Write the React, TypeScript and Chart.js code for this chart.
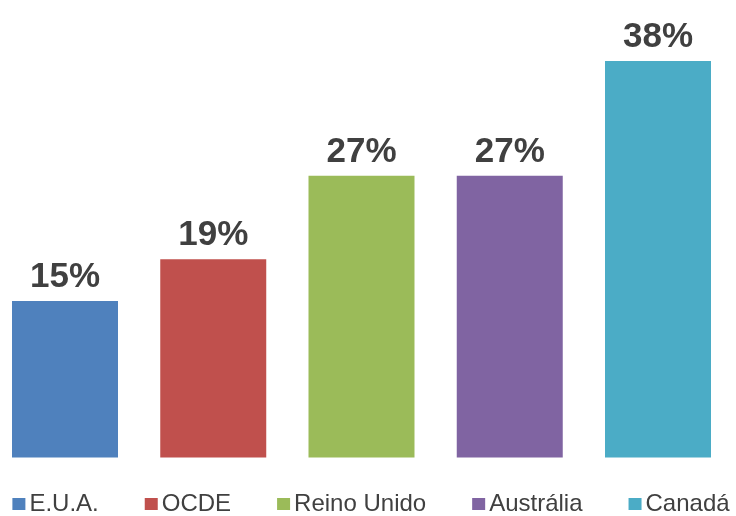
import React, { useEffect, useRef } from "react";
import { Chart, registerables } from "chart.js";

Chart.register(...registerables);

const categories = ["E.U.A.", "OCDE", "Reino Unido", "Austrália", "Canadá"];
const values = [15, 19, 27, 27, 38];
const barColors = ["#4F81BD", "#C0504D", "#9BBB59", "#8064A2", "#4BACC6"];
const yMax = 40;

const FONT = "'Liberation Sans', Arial, sans-serif";

const valueLabelPlugin = {
  id: "valueLabels",
  afterDatasetsDraw(chart: any) {
    const ctx = chart.ctx;
    const meta = chart.getDatasetMeta(0);
    const data = chart.data.datasets[0].data as number[];
    ctx.save();
    ctx.font = `bold 35px ${FONT}`;
    ctx.fillStyle = "#404040";
    ctx.textAlign = "center";
    ctx.textBaseline = "alphabetic";
    meta.data.forEach((bar: any, i: number) => {
      ctx.fillText(`${data[i]}%`, bar.x, bar.y - 14);
    });
    ctx.restore();
  },
};

const bottomLegendPlugin = {
  id: "bottomLegend",
  afterDraw(chart: any) {
    const ctx = chart.ctx;
    const labels = chart.data.labels as string[];
    const colors = chart.data.datasets[0].backgroundColor as string[];
    const box = 13;
    const textGap = 4;
    const itemGap = 46;
    ctx.save();
    ctx.font = `24px ${FONT}`;
    const widths = labels.map((l) => ctx.measureText(l).width);
    const total =
      widths.reduce((a, w) => a + box + textGap + w, 0) + itemGap * (labels.length - 1);
    let x = chart.width / 2 + 3 - total / 2;
    const boxTop = 498;
    const baseline = 511;
    labels.forEach((l, i) => {
      ctx.fillStyle = colors[i];
      ctx.fillRect(x, boxTop, box, 12);
      ctx.fillStyle = "#404040";
      ctx.textAlign = "left";
      ctx.textBaseline = "alphabetic";
      ctx.fillText(l, x + box + textGap, baseline);
      x += box + textGap + widths[i] + itemGap;
    });
    ctx.restore();
  },
};

export default function App() {
  const canvasRef = useRef<HTMLCanvasElement | null>(null);

  useEffect(() => {
    if (!canvasRef.current) return;
    const chart = new Chart(canvasRef.current, {
      type: "bar",
      data: {
        labels: categories,
        datasets: [
          {
            data: values,
            backgroundColor: barColors,
            borderWidth: 0,
            categoryPercentage: 1,
            barPercentage: 0.715,
            clip: false as any,
          },
        ],
      },
      options: {
        responsive: false,
        animation: false,
        layout: { padding: { left: 65, right: 78, top: 40, bottom: 58.5 } },
        plugins: {
          legend: { display: false },
          tooltip: { enabled: false },
        },
        scales: {
          x: { display: false, offset: false },
          y: { display: false, min: 0, max: yMax },
        },
      },
      plugins: [valueLabelPlugin, bottomLegendPlugin],
    });
    return () => chart.destroy();
  }, []);

  return (
    <div style={{ position: "absolute", left: 0, top: 0, width: 736, height: 516, background: "#fff" }}>
      <canvas ref={canvasRef} width={736} height={516} />
    </div>
  );
}
